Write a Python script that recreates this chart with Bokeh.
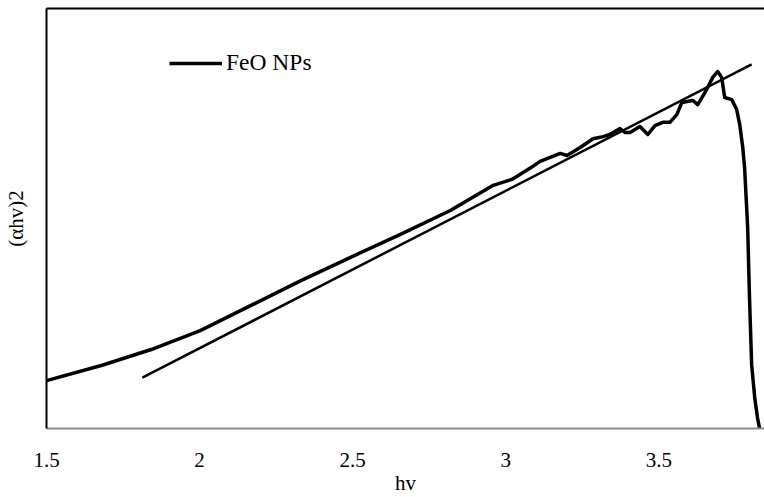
from bokeh.plotting import figure
from bokeh.models import LinearAxis, FixedTicker, Range1d, Legend, LegendItem, ColumnDataSource
from bokeh.embed import file_html
from bokeh.resources import INLINE

# Data (y in arbitrary units)
hv = [1.500, 1.679, 1.842, 2.002, 2.168, 2.331, 2.500, 2.656, 2.819, 2.959, 3.020,
      3.080, 3.112, 3.178, 3.200, 3.243, 3.285, 3.318, 3.340, 3.373, 3.389, 3.406,
      3.438, 3.464, 3.487, 3.513, 3.536, 3.559, 3.575, 3.611, 3.627, 3.656, 3.676,
      3.692, 3.705, 3.715, 3.738, 3.754, 3.764, 3.774, 3.780, 3.790, 3.796, 3.803,
      3.813, 3.822, 3.829]
ahv2 = [11.4, 15.0, 18.8, 23.3, 29.3, 35.2, 41.0, 46.2, 51.9, 57.9, 59.3,
        62.0, 63.6, 65.5, 65.0, 66.9, 69.0, 69.5, 70.0, 71.4, 70.5, 70.5,
        71.9, 70.0, 72.1, 72.9, 72.9, 74.8, 77.6, 78.1, 77.1, 80.7, 83.6,
        85.0, 83.6, 78.8, 78.3, 76.0, 72.4, 66.9, 62.1, 47.9, 31.2, 15.2,
        7.4, 2.6, 0.0]
fit_hv = [1.813, 3.803]
fit_ahv2 = [12.1, 86.7]
x_ticks = [1.5, 2, 2.5, 3, 3.5]
series_name = "FeO NPs"

FONT = "Liberation Serif"

p = figure(width=764, height=497, output_backend="svg", toolbar_location=None,
           x_range=Range1d(1.5, 3.845), y_range=Range1d(0, 100),
           x_axis_type=None, y_axis_type=None,
           min_border_left=44, min_border_right=0, min_border_top=8, min_border_bottom=0)
p.outline_line_color = None
p.xgrid.visible = False
p.ygrid.visible = False
p.background_fill_color = "white"

xaxis = LinearAxis(ticker=FixedTicker(ticks=x_ticks), axis_label="hv")
xaxis.axis_line_color = "#8c8c8c"
xaxis.axis_line_width = 2
xaxis.major_tick_line_color = None
xaxis.minor_tick_line_color = None
xaxis.major_tick_out = 0
xaxis.major_label_standoff = 24
xaxis.major_label_text_font = FONT
xaxis.major_label_text_font_size = "21px"
xaxis.major_label_text_color = "black"
xaxis.axis_label_text_font = FONT
xaxis.axis_label_text_font_size = "21px"
xaxis.axis_label_text_font_style = "normal"
xaxis.axis_label_text_color = "black"
xaxis.axis_label_standoff = 1
p.add_layout(xaxis, "below")

yaxis = LinearAxis(ticker=FixedTicker(ticks=[]), axis_label="(αhv)2")
yaxis.axis_line_color = "black"
yaxis.axis_line_width = 2
yaxis.major_tick_line_color = None
yaxis.minor_tick_line_color = None
yaxis.axis_label_text_font = FONT
yaxis.axis_label_text_font_size = "21px"
yaxis.axis_label_text_font_style = "normal"
yaxis.axis_label_text_color = "black"
yaxis.axis_label_standoff = 19
p.add_layout(yaxis, "left")

top = LinearAxis(ticker=FixedTicker(ticks=[]))
top.axis_line_color = "black"
top.axis_line_width = 2
top.major_tick_line_color = None
top.minor_tick_line_color = None
p.add_layout(top, "above")

src = ColumnDataSource(dict(x=hv, y=ahv2))
r = p.line("x", "y", source=src, line_color="black", line_width=3.5, line_join="round")
p.line(fit_hv, fit_ahv2, line_color="black", line_width=2.5)

legend = Legend(items=[LegendItem(label=series_name, renderers=[r])],
                location=(123, 352), padding=0, margin=0, spacing=0,
                glyph_width=53, glyph_height=20, label_standoff=4,
                label_text_font=FONT, label_text_font_size="23.5px",
                label_text_color="black",
                background_fill_alpha=0, border_line_color=None)
p.add_layout(legend)

open("out.html", "w").write(file_html(p, INLINE))
